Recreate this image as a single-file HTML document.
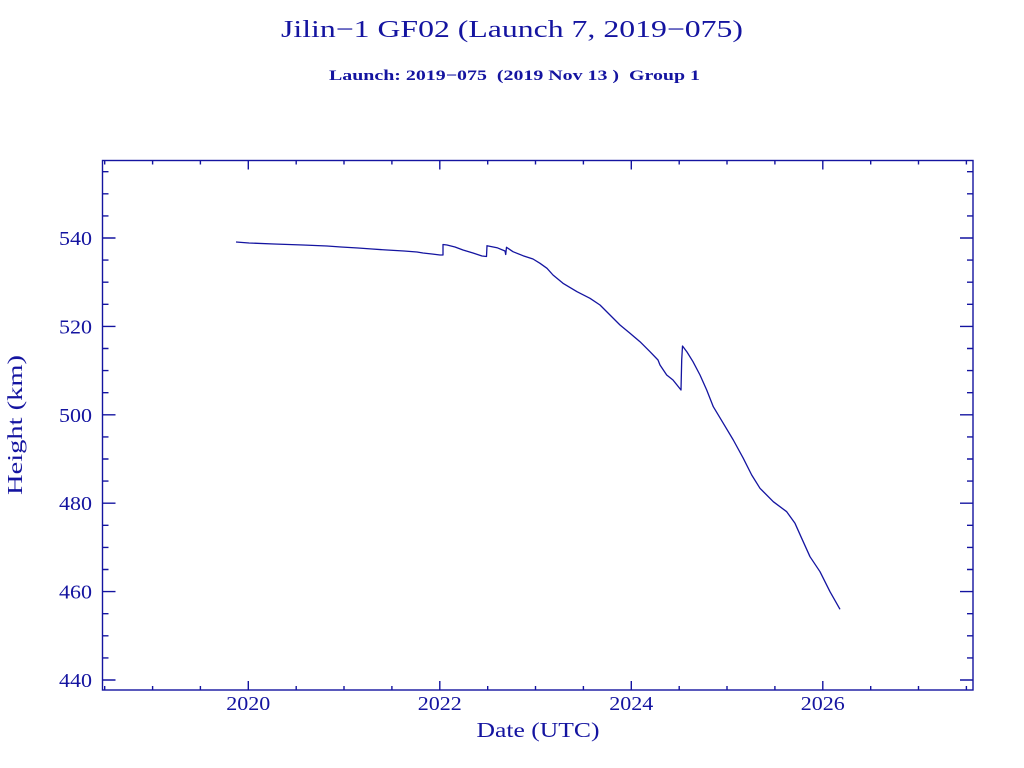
<!DOCTYPE html>
<html><head><meta charset="utf-8"><style>
html,body{margin:0;padding:0;background:#fff;}
svg{display:block;}
text{font-family:"Liberation Serif",serif;fill:#1414a0;}
</style></head><body>
<svg width="1024" height="768" viewBox="0 0 1024 768" xmlns="http://www.w3.org/2000/svg">
<text x="512" y="37" font-size="24" text-anchor="middle" textLength="462" lengthAdjust="spacingAndGlyphs">Jilin−1 GF02 (Launch 7, 2019−075)</text>
<text x="514.5" y="80" font-size="15" font-weight="bold" text-anchor="middle" textLength="371" lengthAdjust="spacingAndGlyphs" xml:space="preserve">Launch: 2019−075  (2019 Nov 13 )  Group 1</text>
<g stroke="#1414a0" stroke-width="1.4" fill="none">
<rect x="102.5" y="160.5" width="870.5" height="529.5"/>
<path d="
M102.5,238H115.5 M102.5,326.4H115.5 M102.5,414.8H115.5 M102.5,503.2H115.5 M102.5,591.6H115.5 M102.5,680H115.5
M102.5,171.7H108.5 M102.5,193.8H108.5 M102.5,215.9H108.5 M102.5,260.1H108.5 M102.5,282.2H108.5 M102.5,304.3H108.5
M102.5,348.5H108.5 M102.5,370.6H108.5 M102.5,392.7H108.5 M102.5,436.9H108.5 M102.5,459H108.5 M102.5,481.1H108.5
M102.5,525.3H108.5 M102.5,547.4H108.5 M102.5,569.5H108.5 M102.5,613.7H108.5 M102.5,635.8H108.5 M102.5,657.9H108.5
M973,238H960 M973,326.4H960 M973,414.8H960 M973,503.2H960 M973,591.6H960 M973,680H960
M973,171.7H967 M973,193.8H967 M973,215.9H967 M973,260.1H967 M973,282.2H967 M973,304.3H967
M973,348.5H967 M973,370.6H967 M973,392.7H967 M973,436.9H967 M973,459H967 M973,481.1H967
M973,525.3H967 M973,547.4H967 M973,569.5H967 M973,613.7H967 M973,635.8H967 M973,657.9H967
M248.3,690V681 M439.8,690V681 M631.3,690V681 M822.8,690V681
M248.3,160.5V169.5 M439.8,160.5V169.5 M631.3,160.5V169.5 M822.8,160.5V169.5
M104.7,690V686 M152.6,690V686 M200.4,690V686 M296.2,690V686 M344,690V686 M391.9,690V686
M487.7,690V686 M535.5,690V686 M583.4,690V686 M679.2,690V686 M727,690V686 M774.9,690V686
M870.7,690V686 M918.5,690V686 M966.4,690V686
M104.7,160.5V164.5 M152.6,160.5V164.5 M200.4,160.5V164.5 M296.2,160.5V164.5 M344,160.5V164.5 M391.9,160.5V164.5
M487.7,160.5V164.5 M535.5,160.5V164.5 M583.4,160.5V164.5 M679.2,160.5V164.5 M727,160.5V164.5 M774.9,160.5V164.5
M870.7,160.5V164.5 M918.5,160.5V164.5 M966.4,160.5V164.5
"/>
<polyline stroke-width="1.3" stroke-linejoin="round" points="
236,242 249,243 274,244 303,245 327,246 341,247 358,248 372,249 387,250 404,251 417,252 423,253 432,254 440,255 443,255
443,244.5 447,245 455,247 463,250 473,253 482,256 486.5,256.5 487,245.7 497,247.7 505,251 505.7,254.5 506.5,247.3
513,251.7 523,255.7 533,259 540,263.3 547,268.3 553,275 563,283.3 577,291.7 590,298.3 600,305 610,315 620,325
630,333.3 640,341.7 650,351.7 658,360 660,365 666.7,375 673,380 681,390 681.7,360 682.5,346 687,352 693,361.7
700,375 706.7,390 713.3,406.7 723.3,423.3 733.3,440 743.3,458.3 751.7,475 760,488.3 773.3,501.7 786.7,511.7
795,523.3 801.7,538.3 810,556.7 820,571.7 830,591.7 840,609.3"/>
</g>
<g font-size="20" text-anchor="end">
<text x="92" y="245" textLength="33" lengthAdjust="spacingAndGlyphs">540</text>
<text x="92" y="333.4" textLength="33" lengthAdjust="spacingAndGlyphs">520</text>
<text x="92" y="421.8" textLength="33" lengthAdjust="spacingAndGlyphs">500</text>
<text x="92" y="510.2" textLength="33" lengthAdjust="spacingAndGlyphs">480</text>
<text x="92" y="598.6" textLength="33" lengthAdjust="spacingAndGlyphs">460</text>
<text x="92" y="687" textLength="33" lengthAdjust="spacingAndGlyphs">440</text>
</g>
<g font-size="20" text-anchor="middle">
<text x="248.3" y="710" textLength="44" lengthAdjust="spacingAndGlyphs">2020</text>
<text x="439.8" y="710" textLength="44" lengthAdjust="spacingAndGlyphs">2022</text>
<text x="631.3" y="710" textLength="44" lengthAdjust="spacingAndGlyphs">2024</text>
<text x="822.8" y="710" textLength="44" lengthAdjust="spacingAndGlyphs">2026</text>
</g>
<text x="538" y="737" font-size="21" text-anchor="middle" textLength="123" lengthAdjust="spacingAndGlyphs">Date (UTC)</text>
<text transform="translate(22,425) rotate(-90)" font-size="21" text-anchor="middle" textLength="140" lengthAdjust="spacingAndGlyphs">Height (km)</text>
</svg>
</body></html>
